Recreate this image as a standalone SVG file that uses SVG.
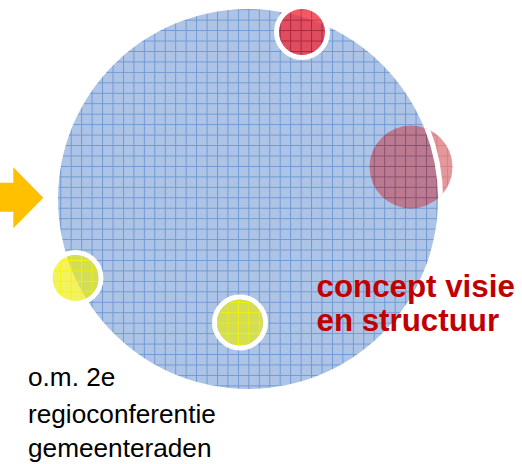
<svg xmlns="http://www.w3.org/2000/svg" width="522" height="464" viewBox="0 0 522 464">
  <style>
    .ring { stroke: #ffffff; stroke-width: 5; }
    .lbl { font-family: "Liberation Sans", Arial, sans-serif; }
    .red { fill: #c00000; font-weight: bold; font-size: 31.3px; }
    .blk { fill: #000000; font-size: 26.2px; }
  </style>
  <defs>
    <pattern id="blueGrid" patternUnits="userSpaceOnUse" x="8" y="9.2" width="10.45" height="10.45">
      <rect width="10.45" height="10.45" fill="#adc4e6"/>
      <path d="M0.5 0V10.45M0 0.5H10.45" stroke="#7099d3" stroke-width="1" fill="none"/>
    </pattern>
    <pattern id="redGrid" patternUnits="userSpaceOnUse" x="8" y="9.2" width="10.45" height="10.45">
      <rect width="10.45" height="10.45" fill="#ee2a3a"/>
      <path d="M0.5 0V10.45M0 0.5H10.45" stroke="#b80818" stroke-width="1" fill="none"/>
    </pattern>
    <pattern id="redGrid2" patternUnits="userSpaceOnUse" x="8" y="9.2" width="10.45" height="10.45">
      <rect width="10.45" height="10.45" fill="#c83038"/>
      <path d="M0.5 0V10.45M0 0.5H10.45" stroke="#a00810" stroke-width="1" fill="none"/>
    </pattern>
    <pattern id="yelGrid" patternUnits="userSpaceOnUse" x="8" y="9.2" width="10.45" height="10.45">
      <rect width="10.45" height="10.45" fill="#ecec00" fill-opacity="0.62"/>
      <path d="M0.5 0V10.45M0 0.5H10.45" stroke="#f6f600" stroke-width="1" fill="none"/>
    </pattern>
    <clipPath id="clipR">
      <circle cx="411" cy="167" r="41.5"/>
    </clipPath>
  </defs>

  <g id="main-circle">
    <circle cx="248" cy="199" r="190" fill="url(#blueGrid)"/>
  </g>

  <g id="red-top">
    <circle cx="302" cy="32" r="25.5" class="ring" fill="none"/>
    <circle cx="302" cy="32" r="23" fill="url(#redGrid)" opacity="0.78"/>
  </g>

  <g id="red-right">
    <circle cx="411" cy="167" r="41.5" fill="url(#redGrid2)" opacity="0.5"/>
    <circle cx="248" cy="199" r="192.6" fill="none" stroke="#ffffff" stroke-width="5" clip-path="url(#clipR)"/>
  </g>

  <g id="yellow-left">
    <circle cx="75.5" cy="278" r="25.5" class="ring" fill="none"/>
    <circle cx="75.5" cy="278" r="23" fill="url(#yelGrid)"/>
  </g>

  <g id="yellow-bottom">
    <circle cx="240" cy="322.5" r="25.5" class="ring" fill="none"/>
    <circle cx="240" cy="322.5" r="23" fill="url(#yelGrid)"/>
  </g>

  <g id="connectors">
    <g id="arrow">
      <path d="M0 182.7H13.3V167.3L43.3 197.7L13.3 228.3V211.7H0Z" fill="#ffc000"/>
    </g>
  </g>

  <g id="label-concept">
    <text class="lbl red" x="316.5" y="297">concept visie</text>
    <text class="lbl red" x="316.5" y="331">en structuur</text>
  </g>

  <g id="label-om">
    <text class="lbl blk" x="28" y="386">o.m. 2e</text>
    <text class="lbl blk" x="28" y="423">regioconferentie</text>
    <text class="lbl blk" x="28" y="457">gemeenteraden</text>
  </g>
</svg>
